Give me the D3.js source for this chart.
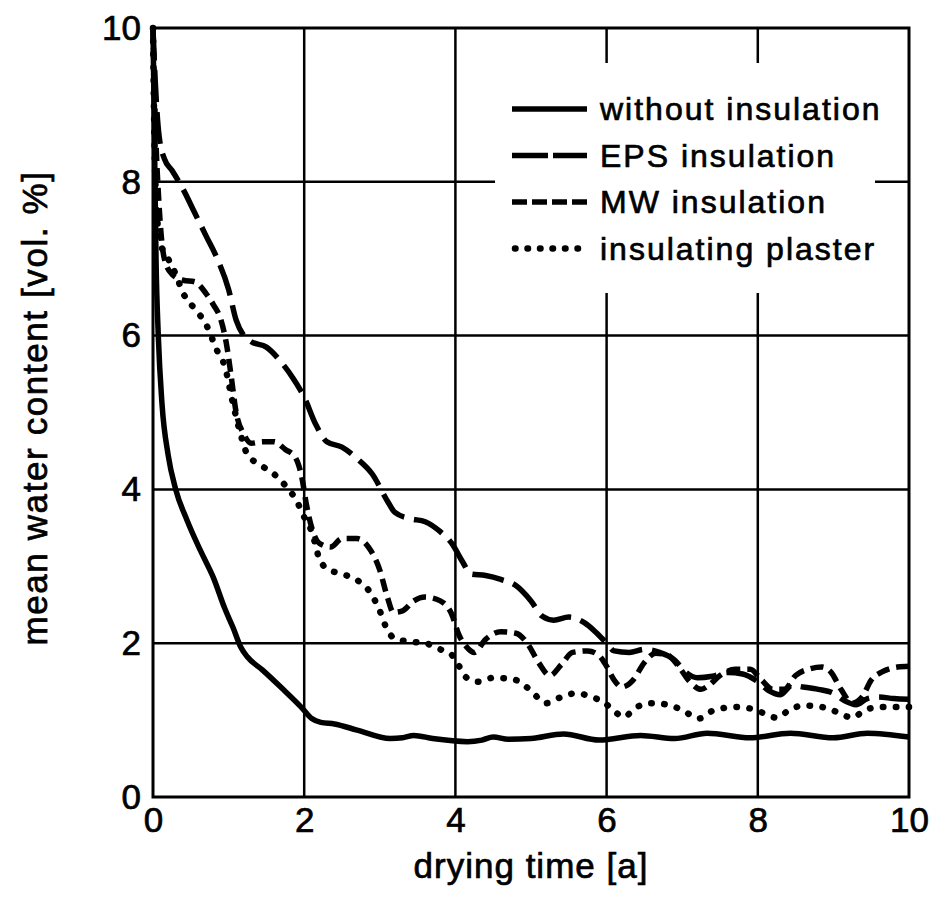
<!DOCTYPE html>
<html>
<head>
<meta charset="utf-8">
<script src="https://cdn.jsdelivr.net/npm/d3@7"></script>
<style>
  body { margin: 0; background: #fff; }
  svg { display: block; }
  text { font-family: "Liberation Sans", Arial, Helvetica, sans-serif; fill: #000; stroke: #000; stroke-width: 0.7px; }
</style>
</head>
<body>
<div id="chart"></div>
<script>
// drying time [a] vs mean water content [vol. %]
var withoutX = [0, 0.02, 0.04, 0.07, 0.12, 0.2, 0.3, 0.45, 0.63, 0.8, 0.95, 1.06, 1.16, 1.25, 1.45, 1.7, 1.96, 2.1, 2.22, 2.4, 2.7, 3.14, 3.3, 3.45, 3.7, 4.16, 4.35, 4.5, 4.7, 5.0, 5.43, 5.9, 6.45, 6.9, 7.33, 7.9, 8.43, 9.0, 9.45, 10];
var withoutY = [10, 8.5, 7, 6, 5.1, 4.45, 4.0, 3.6, 3.2, 2.85, 2.45, 2.2, 1.95, 1.82, 1.65, 1.42, 1.17, 1.02, 0.97, 0.95, 0.87, 0.76, 0.77, 0.8, 0.76, 0.72, 0.74, 0.78, 0.75, 0.76, 0.82, 0.74, 0.8, 0.76, 0.83, 0.77, 0.83, 0.77, 0.83, 0.78];

var epsX = [0, 0.03, 0.08, 0.15, 0.25, 0.4, 0.55, 0.7, 0.85, 1.0, 1.1, 1.2, 1.3, 1.5, 1.7, 1.85, 2.0, 2.15, 2.3, 2.5, 2.7, 2.9, 3.1, 3.2, 3.4, 3.6, 3.8, 3.95, 4.1, 4.2, 4.4, 4.6, 4.8, 5.0, 5.15, 5.3, 5.5, 5.7, 5.85, 6.0, 6.1, 6.3, 6.5, 6.7, 6.9, 7.05, 7.2, 7.4, 7.6, 7.8, 8.0, 8.15, 8.3, 8.45, 8.6, 8.8, 9.0, 9.15, 9.3, 9.45, 9.6, 9.8, 10];
var epsY = [10, 9.3, 8.6, 8.3, 8.15, 7.9, 7.6, 7.3, 7.0, 6.6, 6.2, 6.0, 5.92, 5.85, 5.65, 5.45, 5.2, 4.85, 4.62, 4.55, 4.4, 4.2, 3.85, 3.7, 3.62, 3.58, 3.45, 3.3, 3.05, 2.9, 2.88, 2.83, 2.75, 2.55, 2.35, 2.3, 2.34, 2.27, 2.15, 2.0, 1.9, 1.88, 1.92, 1.88, 1.78, 1.62, 1.55, 1.57, 1.62, 1.6, 1.5, 1.38, 1.33, 1.45, 1.43, 1.4, 1.35, 1.25, 1.2, 1.28, 1.3, 1.28, 1.27];

var mwX = [0, 0.03, 0.08, 0.15, 0.25, 0.4, 0.55, 0.7, 0.8, 0.9, 0.97, 1.03, 1.1, 1.2, 1.3, 1.45, 1.6, 1.75, 1.88, 1.97, 2.03, 2.1, 2.2, 2.35, 2.5, 2.7, 2.85, 3.0, 3.1, 3.18, 3.3, 3.45, 3.6, 3.8, 3.95, 4.05, 4.15, 4.25, 4.4, 4.6, 4.8, 4.95, 5.1, 5.25, 5.4, 5.55, 5.75, 5.9, 6.0, 6.1, 6.2, 6.35, 6.5, 6.65, 6.8, 6.95, 7.1, 7.25, 7.35, 7.5, 7.7, 7.9, 8.05, 8.2, 8.35, 8.5, 8.7, 8.85, 8.97, 9.1, 9.25, 9.38, 9.5, 9.65, 9.85, 10];
var mwY = [10, 8.8, 7.7, 7.0, 6.8, 6.72, 6.7, 6.55, 6.4, 6.2, 5.9, 5.5, 5.0, 4.72, 4.6, 4.62, 4.62, 4.52, 4.42, 4.15, 3.8, 3.5, 3.3, 3.25, 3.36, 3.36, 3.25, 2.95, 2.6, 2.4, 2.42, 2.55, 2.6, 2.55, 2.38, 2.1, 1.95, 1.88, 2.05, 2.15, 2.13, 2.0, 1.75, 1.58, 1.72, 1.88, 1.9, 1.84, 1.7, 1.52, 1.43, 1.52, 1.75, 1.87, 1.85, 1.7, 1.5, 1.4, 1.45, 1.58, 1.66, 1.66, 1.52, 1.4, 1.4, 1.58, 1.67, 1.69, 1.62, 1.4, 1.22, 1.3, 1.52, 1.63, 1.69, 1.7];

var plasterX = [0, 0.02, 0.05, 0.1, 0.2, 0.3, 0.4, 0.55, 0.7, 0.85, 0.95, 1.05, 1.15, 1.25, 1.4, 1.6, 1.75, 1.9, 2.0, 2.1, 2.2, 2.3, 2.5, 2.7, 2.9, 3.0, 3.1, 3.2, 3.4, 3.6, 3.8, 3.95, 4.05, 4.15, 4.3, 4.5, 4.7, 4.85, 5.0, 5.2, 5.4, 5.6, 5.8, 5.95, 6.1, 6.22, 6.4, 6.6, 6.85, 7.05, 7.22, 7.4, 7.7, 7.95, 8.1, 8.25, 8.4, 8.6, 8.9, 9.1, 9.25, 9.4, 9.6, 10];
var plasterY = [10, 8.5, 7.6, 7.2, 7.0, 6.8, 6.55, 6.35, 6.15, 5.8, 5.6, 5.15, 4.75, 4.45, 4.33, 4.2, 4.05, 3.85, 3.64, 3.45, 3.1, 2.97, 2.9, 2.82, 2.62, 2.42, 2.17, 2.06, 2.02, 2.0, 1.92, 1.85, 1.7, 1.55, 1.5, 1.55, 1.54, 1.5, 1.38, 1.22, 1.3, 1.35, 1.3, 1.24, 1.12, 1.04, 1.17, 1.22, 1.19, 1.1, 1.02, 1.12, 1.17, 1.14, 1.08, 1.03, 1.12, 1.19, 1.16, 1.08, 1.03, 1.12, 1.17, 1.17];

var seriesNames = ["without insulation", "EPS insulation", "MW insulation", "insulating plaster"];
var xTicks = [0, 2, 4, 6, 8, 10];
var yTicks = [0, 2, 4, 6, 8, 10];

var width = 932, height = 909;
var plotLeft = 153, plotRight = 909, plotTop = 28, plotBottom = 797;

var svg = d3.select("#chart").append("svg")
    .attr("width", width)
    .attr("height", height);

var x = d3.scaleLinear().domain([0, 10]).range([plotLeft, plotRight]);
var y = d3.scaleLinear().domain([0, 10]).range([plotBottom, plotTop]);

// grid
svg.append("g").selectAll("line")
    .data(xTicks.slice(1, -1))
    .enter().append("line")
    .attr("x1", d => x(d)).attr("x2", d => x(d))
    .attr("y1", plotTop).attr("y2", plotBottom)
    .attr("stroke", "#000").attr("stroke-width", 2.5);
svg.append("g").selectAll("line")
    .data(yTicks.slice(1, -1))
    .enter().append("line")
    .attr("x1", plotLeft).attr("x2", plotRight)
    .attr("y1", d => y(d)).attr("y2", d => y(d))
    .attr("stroke", "#000").attr("stroke-width", 2.5);

// legend background hides the grid behind it
svg.append("rect")
    .attr("x", 495).attr("y", 63)
    .attr("width", 380).attr("height", 230)
    .attr("fill", "#fff");

// frame
svg.append("rect")
    .attr("x", plotLeft).attr("y", plotTop)
    .attr("width", plotRight - plotLeft).attr("height", plotBottom - plotTop)
    .attr("fill", "none").attr("stroke", "#000").attr("stroke-width", 3);

// axes (labels only)
var xAxis = d3.axisBottom(x).tickValues(xTicks).tickSize(0).tickPadding(10);
var gx = svg.append("g").attr("transform", `translate(0, ${plotBottom})`).call(xAxis);
gx.select(".domain").remove();
gx.selectAll("text")
    .attr("dy", "0.71em")
    .style("font-size", "35px")
    .style("font-family", "'Liberation Sans', Arial, sans-serif");

var yAxis = d3.axisLeft(y).tickValues(yTicks).tickSize(0).tickPadding(12);
var gy = svg.append("g").attr("transform", `translate(${plotLeft}, 0)`).call(yAxis);
gy.select(".domain").remove();
gy.selectAll("text")
    .style("font-size", "35px")
    .style("font-family", "'Liberation Sans', Arial, sans-serif");

// axis titles
svg.append("text")
    .attr("x", (plotLeft + plotRight) / 2)
    .attr("y", 878)
    .attr("text-anchor", "middle")
    .style("font-size", "35px")
    .style("letter-spacing", "1px")
    .text("drying time [a]");

svg.append("text")
    .attr("transform", "translate(47, 408) rotate(-90)")
    .attr("text-anchor", "middle")
    .style("font-size", "35px")
    .style("letter-spacing", "1.6px")
    .text("mean water content [vol. %]");

// curves
var styles = [
    { dash: null, width: 5.5, cap: "butt" },
    { dash: "32,10", width: 5.5, cap: "butt" },
    { dash: "13,7", width: 5.5, cap: "butt" },
    { dash: "0.5,12.5", width: 6.5, cap: "round" }
];
var series = [
    d3.zip(withoutX, withoutY),
    d3.zip(epsX, epsY),
    d3.zip(mwX, mwY),
    d3.zip(plasterX, plasterY)
];

var line = d3.line()
    .x(d => x(d[0]))
    .y(d => y(d[1]))
    .curve(d3.curveMonotoneX);

svg.append("g").selectAll("path")
    .data(series)
    .enter().append("path")
    .attr("d", line)
    .attr("fill", "none")
    .attr("stroke", "#000")
    .attr("stroke-width", (d, i) => styles[i].width)
    .attr("stroke-dasharray", (d, i) => styles[i].dash)
    .attr("stroke-linecap", (d, i) => styles[i].cap)
    .attr("stroke-linejoin", "round");

// legend
var legendDash = [null, "36,5", "15,5", "0.5,12"];
var legend = svg.append("g").selectAll("g")
    .data(seriesNames)
    .enter().append("g")
    .attr("transform", (d, i) => `translate(0, ${109 + i * 46.5})`);

legend.append("line")
    .attr("x1", (d, i) => i == 3 ? 515 : 512)
    .attr("x2", 587)
    .attr("y1", 0).attr("y2", 0)
    .attr("stroke", "#000")
    .attr("stroke-width", (d, i) => styles[i].width)
    .attr("stroke-dasharray", (d, i) => legendDash[i])
    .attr("stroke-linecap", (d, i) => styles[i].cap);

legend.append("text")
    .attr("x", 600)
    .attr("y", 11)
    .style("font-size", "32px")
    .style("letter-spacing", "2px")
    .text(d => d);
</script>
</body>
</html>
